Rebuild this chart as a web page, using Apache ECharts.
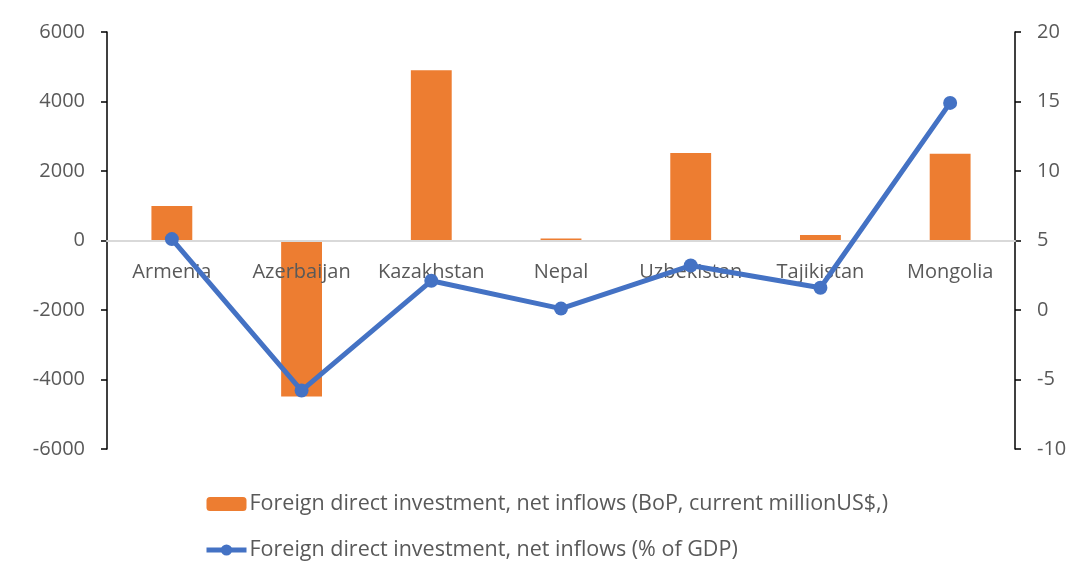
<!DOCTYPE html>
<html>
<head>
<meta charset="utf-8">
<script src="https://cdn.jsdelivr.net/npm/echarts@6/dist/echarts.min.js"></script>
<style>
  html, body { margin: 0; padding: 0; background: #fff; }
  #chart { width: 1078px; height: 575px; }
</style>
</head>
<body>
<div id="chart"></div>
<script>
// data
const countries = ["Armenia", "Azerbaijan", "Kazakhstan", "Nepal", "Uzbekistan", "Tajikistan", "Mongolia"];
const fdiMillion = [990, -4490, 4900, 60, 2520, 160, 2500];
const fdiPctGdp = [5.1, -5.8, 2.1, 0.1, 3.2, 1.6, 14.9];

const barName = "Foreign direct investment, net inflows (BoP, current millionUS$,)";
const lineName = "Foreign direct investment, net inflows (% of GDP)";

const font = "Open Sans";
const textColor = "#595959";

let myChart = echarts.init(document.getElementById("chart"));
myChart.setOption({
  animation: false,
  textStyle: { fontFamily: font },
  color: ["#ED7D31", "#4472C4"],
  legend: {
    orient: "vertical",
    left: 199,
    top: 488,
    itemGap: 24,
    itemWidth: 40,
    itemHeight: 14,
    lineStyle: { width: 5 },
    textStyle: { fontFamily: font, fontSize: 21.5, color: textColor, padding: [0, 0, 0, -2] },
    data: [barName, lineName]
  },
  grid: {
    left: 107,
    right: 63,
    top: 32,
    bottom: 126
  },
  xAxis: {
    type: "category",
    data: countries,
    z: 3,
    axisLine: {
      onZero: true,
      onZeroAxisIndex: 0,
      lineStyle: { color: "#d9d9d9", width: 2 }
    },
    axisTick: { show: false },
    // labels sit just under the zero line, as in the original
    axisLabel: { fontSize: 20, color: textColor, margin: -187, interval: 0 }
  },
  yAxis: [
    {
      type: "value",
      min: -6000,
      max: 6000,
      interval: 2000,
      splitLine: { show: false },
      axisLine: { show: true, lineStyle: { color: "#000", width: 1.5 } },
      axisTick: { show: true, length: 6, lineStyle: { color: "#000", width: 1.5 } },
      axisLabel: { fontSize: 20, color: textColor, margin: 22, formatter: v => String(v) }
    },
    {
      type: "value",
      min: -10,
      max: 20,
      interval: 5,
      splitLine: { show: false },
      axisLine: { show: true, lineStyle: { color: "#000", width: 1.5 } },
      axisTick: { show: true, length: 6, lineStyle: { color: "#000", width: 1.5 } },
      axisLabel: { fontSize: 20, color: textColor, margin: 22 }
    }
  ],
  series: [
    {
      name: barName,
      type: "bar",
      barWidth: "31.5%",
      yAxisIndex: 0,
      data: fdiMillion
    },
    {
      name: lineName,
      type: "line",
      yAxisIndex: 1,
      symbol: "circle",
      symbolSize: 14,
      lineStyle: { width: 5 },
      z: 5,
      data: fdiPctGdp
    }
  ]
});
</script>
</body>
</html>
